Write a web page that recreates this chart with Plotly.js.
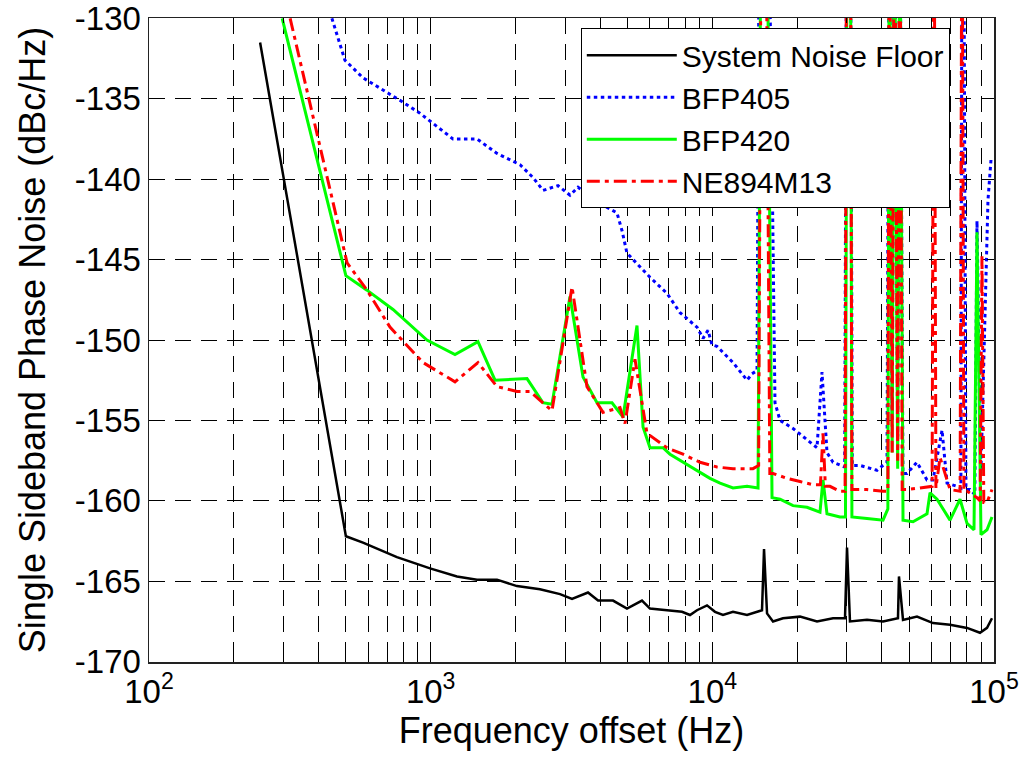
<!DOCTYPE html>
<html>
<head>
<meta charset="utf-8">
<script src="https://cdn.plot.ly/plotly-3.0.1.min.js"></script>
<style>html,body{margin:0;padding:0;background:#fff;}#chart{width:1026px;height:767px;}</style>
</head>
<body>
<div id="chart"></div>
<script>
// ---- data ----
const seriesNames = ["System Noise Floor", "BFP405", "BFP420", "NE894M13"];

const floorFreq = [248, 500, 575, 759, 995, 1240, 1460, 1720, 2025, 2444, 2879, 3176, 3619, 3929, 4440, 4977, 5627, 6007, 6902, 7805, 8332, 8822, 9574, 10220, 10910, 11840, 13280, 14410, 15010, 15260, 15640, 16420, 17820, 20480, 23530, 26820, 29580, 30070, 30810, 35410, 40360, 45610, 45990, 47530, 53280, 60740, 69810, 80220, 89180, 94450, 98370];
const floorPN = [-131.5, -162.2, -162.6, -163.5, -164.2, -164.7, -164.9, -164.9, -165.3, -165.5, -165.8, -166.1, -165.7, -166.2, -166.2, -166.7, -166.2, -166.7, -166.8, -166.9, -167.1, -166.8, -166.5, -166.9, -167.1, -166.9, -167.1, -166.9, -166.8, -163.0, -167.0, -167.5, -167.3, -167.2, -167.5, -167.3, -167.3, -162.9, -167.5, -167.4, -167.5, -167.3, -164.7, -167.4, -167.2, -167.6, -167.7, -167.9, -168.2, -167.9, -167.3];

const bfp405Freq = [446, 484, 496, 575, 700, 778, 916, 1053, 1200, 1460, 1720, 2076, 2309, 2505, 2832, 3124, 3335, 3895, 4587, 4779, 4977, 6007, 6902, 7678, 8822, 9267, 9652, 9972, 10390, 11840, 13280, 13830, 14410, 14700, 15800, 16690, 17390, 19340, 21680, 23530, 24510, 25530, 26820, 29500, 30000, 30900, 31400, 33440, 38420, 41700, 42500, 43500, 44300, 45500, 46300, 47500, 49110, 53280, 57830, 60740, 65400, 68120, 73890, 76300, 77000, 78000, 79500, 82200, 85500, 87020, 89900, 92880, 95200, 97580];
const bfp405PN = [-130, -132.0, -132.6, -133.7, -134.6, -135.1, -135.9, -136.7, -137.5, -137.5, -138.4, -139.1, -139.9, -140.7, -140.4, -141.0, -140.5, -141.4, -142.1, -143.2, -144.6, -146.1, -147.1, -148.3, -149.2, -149.9, -149.4, -150.3, -150.4, -151.4, -152.5, -152.1, -151.9, -120, -120, -153.9, -155.0, -155.5, -156.2, -156.7, -152.0, -157.0, -157.6, -157.9, -120, -120, -157.8, -157.8, -158.1, -157.6, -120, -155.0, -120, -156.0, -120, -158.3, -158.3, -157.6, -158.7, -158.7, -155.6, -158.9, -159.1, -159.2, -120, -120, -159.3, -159.3, -159.6, -142.6, -158.1, -147.5, -141.3, -138.8];

const bfp420Freq = [297, 500, 594, 735, 970, 1220, 1472, 1692, 2198, 2505, 2696, 3124, 3474, 3895, 4404, 4818, 5401, 5675, 6007, 6680, 7074, 7868, 9042, 9810, 10650, 11840, 13280, 14170, 14530, 14900, 15600, 16290, 17390, 19340, 21680, 24110, 24710, 25530, 28390, 29700, 30100, 30900, 31300, 35410, 40360, 42000, 42500, 43500, 44300, 45500, 46300, 47530, 51580, 57830, 59270, 62760, 69810, 75750, 80220, 84920, 87020, 89900, 94450, 98370];
const bfp420PN = [-130, -146.0, -146.9, -148.1, -150.0, -150.9, -150.1, -152.5, -152.4, -153.9, -154.0, -147.3, -152.3, -153.9, -153.9, -154.8, -149.1, -155.4, -156.7, -156.7, -157.1, -157.6, -158.2, -158.6, -158.9, -159.2, -159.1, -159.2, -159.2, -120, -120, -159.8, -159.9, -160.3, -160.4, -160.7, -158.7, -160.8, -161.0, -161.0, -120, -120, -161.0, -161.1, -161.2, -160.5, -120, -157.0, -120, -158.0, -120, -161.2, -161.3, -160.8, -159.5, -159.9, -161.2, -159.9, -161.4, -161.8, -143.3, -162.1, -161.8, -161.0];

const ne894Freq = [317, 505, 594, 717, 939, 1220, 1472, 1720, 2025, 2252, 2696, 3176, 3589, 4091, 4700, 4897, 5314, 5861, 6902, 7868, 9042, 10390, 11840, 13940, 14600, 14950, 15450, 16000, 16420, 18410, 20480, 22780, 24200, 24710, 25200, 26160, 28390, 29600, 30000, 30900, 31300, 35410, 40360, 42000, 42500, 43500, 44300, 45500, 46300, 47200, 49110, 54620, 60300, 61240, 62200, 64330, 69810, 75800, 77000, 78200, 80220, 87020, 89300, 90640, 92000, 94450, 98370];
const ne894PN = [-130, -145.2, -146.9, -149.2, -151.4, -152.6, -151.4, -152.9, -153.2, -153.2, -154.4, -146.7, -152.9, -154.5, -154.2, -155.2, -151.2, -155.8, -156.7, -157.1, -157.6, -157.9, -158.0, -158.0, -157.8, -118, -118, -158.3, -158.3, -158.6, -158.8, -159.0, -159.0, -155.8, -159.1, -159.1, -159.4, -159.4, -118, -118, -159.3, -159.3, -159.4, -159.4, -118, -157.0, -118, -157.5, -118, -159.3, -159.3, -159.2, -159.1, -118, -159.2, -157.3, -159.3, -159.4, -118, -159.4, -159.4, -159.8, -160.0, -144.8, -160.1, -160.1, -159.3];

const xTickVals = [100, 1000, 10000, 100000];
const xTickText = ["10<sup>2</sup>", "10<sup>3</sup>", "10<sup>4</sup>", "10<sup>5</sup>"];
const xMinorVals = [200, 300, 400, 500, 600, 700, 800, 900, 2000, 3000, 4000, 5000, 6000, 7000, 8000, 9000, 20000, 30000, 40000, 50000, 60000, 70000, 80000, 90000];
const yTickVals = [-170, -165, -160, -155, -150, -145, -140, -135, -130];
const yTickText = ["-170", "-165", "-160", "-155", "-150", "-145", "-140", "-135", "-130"];

const FONT = "Liberation Sans, Arial, Helvetica, sans-serif";

const traces = [
  {x: floorFreq, y: floorPN, name: seriesNames[0], mode: "lines", line: {color: "#000000", width: 2.5}},
  {x: bfp405Freq, y: bfp405PN, name: seriesNames[1], mode: "lines", line: {color: "#0000ff", width: 3, dash: "3.5px,3.5px"}},
  {x: bfp420Freq, y: bfp420PN, name: seriesNames[2], mode: "lines", line: {color: "#00ff00", width: 3}},
  {x: ne894Freq, y: ne894PN, name: seriesNames[3], mode: "lines", line: {color: "#ff0000", width: 3, dash: "13px,5px,4px,5px"}}
];

const gridDash = "16px,10px";
const layout = {
  width: 1026, height: 767,
  margin: {l: 149, r: 32, t: 18, b: 105},
  paper_bgcolor: "#ffffff", plot_bgcolor: "#ffffff",
  font: {family: FONT, color: "#000000"},
  showlegend: true,
  legend: {
    x: 0.511, y: 0.984, xanchor: "left", yanchor: "top",
    bgcolor: "#ffffff", bordercolor: "#000000", borderwidth: 1,
    font: {size: 30, family: FONT, color: "#000000"},
    itemwidth: 90, tracegroupgap: 0
  },
  xaxis: {
    type: "log", range: [2, 5], autorange: false,
    tickmode: "array", tickvals: xTickVals, ticktext: xTickText,
    tickfont: {size: 33, family: FONT}, ticklabeloverflow: "allow",
    ticks: "inside", ticklen: 7, tickcolor: "#000", tickwidth: 1,
    showline: true, linecolor: "#222", linewidth: 1.5, mirror: "ticks",
    showgrid: true, gridcolor: "#000", gridwidth: 1, griddash: gridDash,
    minor: {tickmode: "array", tickvals: xMinorVals, ticks: "inside", ticklen: 5, tickcolor: "#000", tickwidth: 1,
            showgrid: true, gridcolor: "#000", gridwidth: 1, griddash: gridDash},
    zeroline: false,
    title: {text: "Frequency offset (Hz)", font: {size: 36, family: FONT}, standoff: 8}
  },
  yaxis: {
    range: [-170.02, -129.98], autorange: false,
    tickmode: "array", tickvals: yTickVals, ticktext: yTickText,
    tickfont: {size: 33, family: FONT}, ticklabeloverflow: "allow",
    ticks: "inside", ticklen: 7, tickcolor: "#000", tickwidth: 1,
    showline: true, linecolor: "#222", linewidth: 1.5, mirror: "ticks",
    showgrid: true, gridcolor: "#000", gridwidth: 1, griddash: gridDash,
    zeroline: false,
    title: {text: "Single Sideband Phase Noise (dBc/Hz)", font: {size: 36, family: FONT}, standoff: 18}
  }
};

Plotly.newPlot("chart", traces, layout, {displayModeBar: false, staticPlot: true});
</script>
</body>
</html>
